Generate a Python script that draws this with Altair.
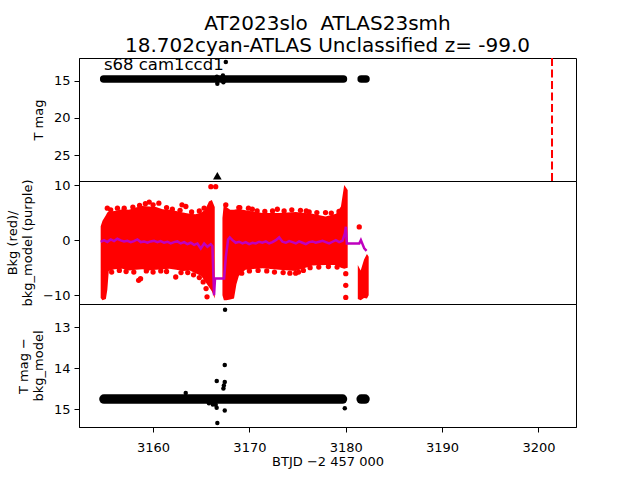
import altair as alt
import pandas as pd

# ---------------- data ----------------
TITLE_LINES = ["AT2023slo\u00a0 ATLAS23smh", "18.702cyan-ATLAS Unclassified z= -99.0"]
ANNOT = "s68 cam1ccd1"

# top panel: dense T-mag band (segment endpoints) and scattered points
TOP_BAND_SEG = ["a", "a", "b", "b"]
TOP_BAND_X = [3154.87, 3179.76, 3181.60, 3182.10]
TOP_BAND_MAG = [14.77, 14.77, 14.77, 14.77]
TOP_DOT_X = [3166.62, 3166.65, 3166.67, 3166.70, 3167.25, 3167.27, 3167.30, 3167.55]
TOP_DOT_MAG = [14.45, 15.00, 15.40, 14.80, 14.30, 14.70, 15.20, 12.47]
LIMIT_X = [3166.67]
LIMIT_MAG = [27.8]
EVENT_X = [3201.41]

# middle panel: background envelope (red cloud) per segment
BKG_SEG = (["s1"] * 23) + (["s2"] * 18) + (["s3"] * 5)
BKG_X = [3154.56, 3154.75, 3155.10, 3155.25, 3155.40, 3156.00, 3156.80, 3157.50,
         3158.20, 3158.90, 3159.60, 3160.30, 3161.00, 3161.70, 3162.40, 3163.10,
         3163.80, 3164.40, 3165.00, 3165.40, 3165.80, 3166.10, 3166.40,
         3167.20, 3167.35, 3167.60, 3168.00, 3168.40, 3168.65, 3168.90, 3169.30,
         3169.60, 3171.35, 3173.10, 3174.80, 3176.55, 3177.90, 3179.00, 3179.50,
         3179.84, 3180.20,
         3181.25, 3181.55, 3181.90, 3182.20, 3182.38]
BKG_LO = [-10.5, -10.9, -10.7, -9.0, -5.6, -5.3, -5.2, -5.5,
          -5.4, -5.3, -5.5, -5.4, -5.3, -5.2, -5.4, -5.6,
          -5.5, -6.0, -6.5, -7.5, -8.5, -9.3, -10.6,
          -10.0, -10.9, -10.9, -10.8, -10.6, -8.0, -6.5, -5.8,
          -5.4, -5.1, -5.4, -5.6, -4.6, -4.5, -4.5, -5.0,
          -5.2, -5.0,
          -10.7, -10.9, -10.5, -10.6, -10.0]
BKG_HI = [2.5, 3.5, 4.5, 5.0, 5.2, 5.3, 5.6, 5.5,
          5.9, 6.2, 6.1, 6.0, 5.6, 5.5, 5.3, 5.0,
          4.8, 4.7, 5.0, 5.5, 7.0, 7.3, 6.0,
          4.0, 6.7, 6.0, 5.5, 5.5, 5.6, 5.6, 5.5,
          5.4, 4.9, 4.9, 5.1, 4.8, 4.3, 4.8, 6.1,
          10.0, 9.1,
          -4.5, -5.5, -3.5, -2.5, -3.0]
# individual red points (isolated outliers and ragged edges of the cloud)
BKG_DOT_X = [3155.25, 3159.60, 3160.60, 3163.00, 3163.40, 3158.50, 3158.70, 3162.35,
             3165.60, 3165.50, 3166.00, 3166.50, 3167.55, 3168.90, 3170.30, 3172.90,
             3175.90, 3177.90, 3174.80, 3175.10, 3180.00, 3180.00, 3180.00, 3181.40,
             3155.6, 3156.3, 3157.0, 3157.9, 3158.6, 3159.2, 3160.0, 3161.4, 3162.0,
             3162.8, 3164.0, 3164.8, 3165.3,
             3155.7, 3156.5, 3157.2, 3158.0, 3159.3, 3160.0, 3160.8, 3161.4, 3162.9,
             3163.6, 3164.2, 3164.8, 3165.2,
             3169.0, 3169.9, 3170.8, 3171.6, 3172.4, 3173.6, 3174.4, 3175.3, 3176.2,
             3177.0, 3178.5, 3179.3,
             3169.2, 3170.0, 3170.9, 3171.8, 3172.6, 3173.5, 3174.2, 3175.6, 3176.3,
             3177.2, 3178.2, 3179.1]
BKG_DOT_Y = [5.8, 6.9, 6.7, 6.4, 6.1, -7.3, -7.0, -6.7,
             -10.3, -8.8, 9.7, 9.7, 6.4, 5.9, 5.6, 5.6,
             5.3, 5.0, -6.0, -5.8, -6.1, -8.2, -10.4, 2.4,
             5.5, 5.8, 5.8, 6.0, 6.3, 6.6, 6.4, 5.9, 5.6,
             5.4, 5.1, 5.3, 5.8,
             -5.8, -5.5, -5.7, -5.8, -5.6, -5.8, -5.6, -5.7, -5.9,
             -5.9, -6.3, -6.8, -7.6,
             5.9, 5.8, 5.3, 5.2, 5.3, 5.3, 5.5, 5.4, 5.1,
             5.0, 4.9, 5.2,
             -6.0, -5.6, -5.5, -5.6, -5.8, -5.9, -6.0, -5.5, -5.0,
             -4.9, -4.8, -4.9]

# middle panel: background model (purple line)
MODEL_X = [3154.56, 3154.91, 3155.25, 3155.60, 3155.95, 3156.29, 3156.64, 3156.98,
           3157.33, 3157.68, 3158.02, 3158.37, 3158.72, 3159.06, 3159.41, 3159.75,
           3160.10, 3160.45, 3160.79, 3161.14, 3161.49, 3161.83, 3162.18, 3162.52,
           3162.87, 3163.22, 3163.56, 3163.91, 3164.26, 3164.60, 3164.95, 3165.30,
           3165.64, 3165.99, 3166.16, 3166.33, 3166.43, 3167.37, 3167.55, 3167.79,
           3167.96, 3168.24, 3168.58, 3168.93, 3169.28, 3169.62, 3169.97, 3170.32,
           3170.66, 3171.01, 3171.35, 3171.70, 3172.05, 3172.39, 3172.74, 3173.09,
           3173.43, 3173.78, 3174.12, 3174.47, 3174.82, 3175.16, 3175.51, 3175.86,
           3176.20, 3176.55, 3176.89, 3177.24, 3177.59, 3177.93, 3178.28, 3178.63,
           3178.97, 3179.32, 3179.66, 3179.91, 3180.01, 3180.11, 3181.40, 3181.57,
           3181.92, 3182.16]
MODEL_Y = [-0.30, 0.00, -0.36, 0.12, -0.18, 0.24, -0.06, -0.24,
           -0.12, -0.36, -0.18, 0.12, -0.36, -0.24, -0.48, -0.24,
           -0.12, -0.36, -0.18, -0.48, -0.30, -0.61, -0.36, -0.24,
           -0.61, -0.36, -0.73, -0.48, -0.85, -0.61, -1.51, -0.61,
           -1.21, -0.73, -1.09, -10.0, -6.97, -6.97, -3.03, 0.12,
           0.49, 0.00, -0.48, -0.30, -0.61, -0.36, -0.73, -0.48,
           -0.61, -0.30, -0.48, -0.24, -0.61, -0.36, 0.00, 0.49,
           -0.30, -0.48, -0.18, -0.36, -0.61, -0.24, -0.48, -0.73,
           -0.36, -0.24, -0.48, -0.30, -0.12, -0.36, -0.61, -0.30,
           0.00, -0.36, -0.12, 1.21, 2.42, -0.61, -0.61, 0.00,
           -1.51, -1.94]

# bottom panel: T mag - bkg_model
BOT_BAND_SEG = ["a", "a", "b", "b"]
BOT_BAND_X = [3154.90, 3179.66, 3181.60, 3182.00]
BOT_BAND_MAG = [14.75, 14.75, 14.75, 14.75]
BOT_DOT_X = [3167.47, 3167.44, 3166.61, 3167.44, 3167.30, 3163.39, 3166.50, 3166.60,
             3167.44, 3166.67, 3179.90, 3165.80, 3166.20, 3166.40, 3167.35]
BOT_DOT_MAG = [12.57, 13.92, 14.31, 14.33, 14.49, 14.60, 14.89, 14.96,
               15.03, 15.33, 14.97, 14.85, 14.88, 14.82, 14.42]

X_TICKS = [3160, 3170, 3180, 3190, 3200]

# ---------------- chart ----------------
FONT = "DejaVu Sans"
W, H = 497, 123
xs = alt.Scale(domain=[3152.31, 3203.9], nice=False, zero=False)
y_top = alt.Scale(domain=[11.93, 28.5], reverse=True, nice=False, zero=False)
y_mid = alt.Scale(domain=[-11.6, 10.73], nice=False, zero=False)
y_bot = alt.Scale(domain=[12.43, 15.43], reverse=True, nice=False, zero=False)

top_band = pd.DataFrame({"seg": TOP_BAND_SEG, "x": TOP_BAND_X, "y": TOP_BAND_MAG})
top_dots = pd.DataFrame({"x": TOP_DOT_X, "y": TOP_DOT_MAG})
lim = pd.DataFrame({"x": LIMIT_X, "y": LIMIT_MAG})
ev = pd.DataFrame({"x": EVENT_X})
ann = pd.DataFrame({"x": [3154.9], "y": [13.55], "t": [ANNOT]})

yax_top = alt.Axis(values=[15, 20, 25], title="T mag", titlePadding=8)
xnone = alt.X("x:Q", scale=xs, axis=None)

top = alt.layer(
    alt.Chart(top_band).mark_line(color="black", strokeWidth=7.5, strokeCap="round").encode(
        x=xnone, y=alt.Y("y:Q", scale=y_top, axis=yax_top), detail="seg:N"),
    alt.Chart(top_dots).mark_circle(color="black", size=20, opacity=1).encode(
        x=xnone, y=alt.Y("y:Q", scale=y_top)),
    alt.Chart(lim).mark_point(shape="triangle-up", filled=True, color="black", size=75, opacity=1).encode(
        x=xnone, y=alt.Y("y:Q", scale=y_top)),
    alt.Chart(ev).mark_rule(color="#ff0000", strokeWidth=2, strokeDash=[8, 3.5]).encode(x=xnone),
    alt.Chart(ann).mark_text(align="left", baseline="alphabetic", fontSize=16.5, font=FONT, color="black").encode(
        x=xnone, y=alt.Y("y:Q", scale=y_top), text="t:N"),
).properties(
    width=W, height=H,
    title=alt.TitleParams(text=TITLE_LINES, fontSize=20, font=FONT, fontWeight="normal",
                          anchor="middle", frame="group", offset=1, lineHeight=22, color="black"),
)

bkg_env = pd.DataFrame({"seg": BKG_SEG, "x": BKG_X, "lo": BKG_LO, "hi": BKG_HI})
bkg_dots = pd.DataFrame({"x": BKG_DOT_X, "y": BKG_DOT_Y})
model = pd.DataFrame({"x": MODEL_X, "y": MODEL_Y})
yax_mid = alt.Axis(values=[-10, 0, 10], title=["Bkg (red)/", "bkg_model (purple)"], titlePadding=8)

mid = alt.layer(
    alt.Chart(bkg_env).mark_area(color="#ff0000", opacity=1).encode(
        x=xnone, y=alt.Y("hi:Q", scale=y_mid, axis=yax_mid), y2="lo:Q", detail="seg:N"),
    alt.Chart(bkg_dots).mark_circle(color="#ff0000", size=28, opacity=1).encode(
        x=xnone, y=alt.Y("y:Q", scale=y_mid)),
    alt.Chart(model).mark_line(color="#bf00bf", strokeWidth=2.5).encode(
        x=xnone, y=alt.Y("y:Q", scale=y_mid)),
).properties(width=W, height=H)

bot_band = pd.DataFrame({"seg": BOT_BAND_SEG, "x": BOT_BAND_X, "y": BOT_BAND_MAG})
bot_dots = pd.DataFrame({"x": BOT_DOT_X, "y": BOT_DOT_MAG})
xax = alt.Axis(values=X_TICKS, format="d", title="BTJD \u22122 457 000", titlePadding=1, labelPadding=9)
yax_bot = alt.Axis(values=[13, 14, 15], title=["T mag \u2212", "bkg_model"], titlePadding=8)

bot = alt.layer(
    alt.Chart(bot_band).mark_line(color="black", strokeWidth=9.5, strokeCap="round").encode(
        x=alt.X("x:Q", scale=xs, axis=xax), y=alt.Y("y:Q", scale=y_bot, axis=yax_bot), detail="seg:N"),
    alt.Chart(bot_dots).mark_circle(color="black", size=20, opacity=1).encode(
        x=alt.X("x:Q", scale=xs, axis=xax), y=alt.Y("y:Q", scale=y_bot)),
).properties(width=W, height=H)

chart = alt.vconcat(top, mid, bot, spacing=0, bounds="flush").properties(
    padding={"left": 6, "top": 13, "right": 5, "bottom": 5},
    background="white",
).configure_axis(
    labelFont=FONT, titleFont=FONT, labelFontSize=13, titleFontSize=13,
    labelColor="black", titleColor="black", titleFontWeight="normal",
    tickColor="black", domainColor="black", tickSize=5, labelPadding=4, grid=False,
).configure_view(stroke="black", strokeWidth=1).configure_concat(spacing=0)

chart.save("out.html", embed_options={"renderer": "svg", "actions": False})
